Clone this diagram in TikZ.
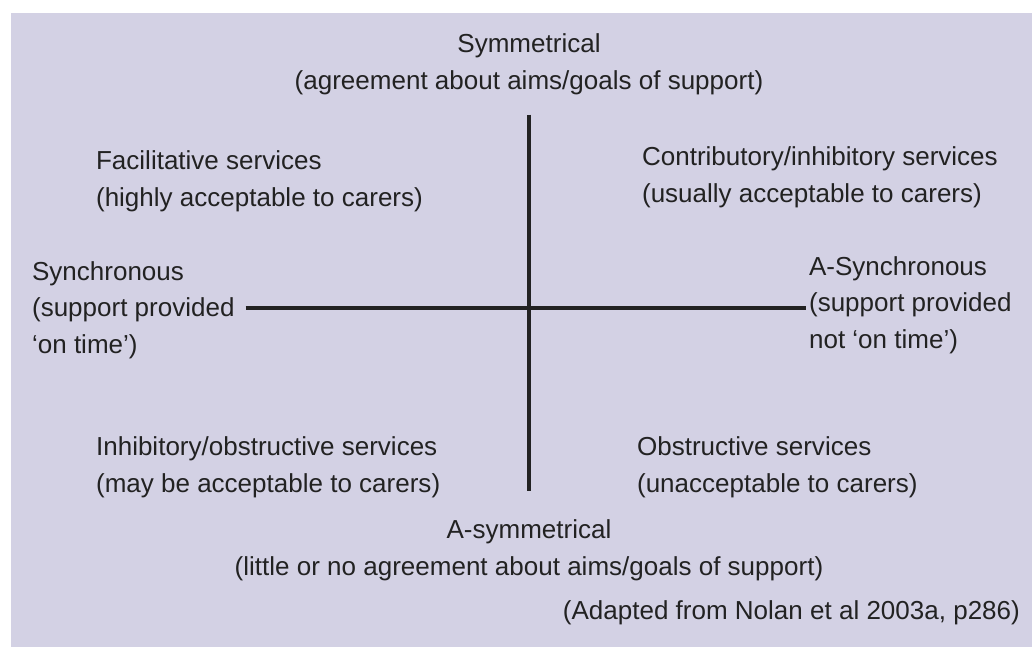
\documentclass[tikz,border=0pt]{standalone}
\usepackage{fontspec}
\setmainfont{Liberation Sans}
\usepackage{tikz}

\definecolor{panel}{HTML}{D3D1E4}
\definecolor{ink}{HTML}{222222}

\tikzset{
  label/.style={text=ink, inner sep=2pt, align=left,
    font=\fontsize{18.5}{26}\selectfont},
  axis/.style={draw=ink, line width=2.4pt}
}

\begin{document}
\begin{tikzpicture}[x=0.025cm, y=-0.025cm]
  \useasboundingbox (0,0) rectangle (1032,647);
  \fill[panel] (11,13) rectangle (1032,647);

  \node[label, align=center] (sym) at (529,64) {Symmetrical\\(agreement about aims/goals of support)};
  \node[label, align=center] (asym) at (529,550) {A-symmetrical\\(little or no agreement about aims/goals of support)};

  \node[label, anchor=west] (fac) at (93,181) {Facilitative services\\(highly acceptable to carers)};
  \node[label, anchor=west] (con) at (639,177) {Contributory/inhibitory services\\(usually acceptable to carers)};
  \node[label, anchor=west] (inh) at (93,467) {Inhibitory/obstructive services\\(may be acceptable to carers)};
  \node[label, anchor=west] (obs) at (634,467) {Obstructive services\\(unacceptable to carers)};

  \node[label, anchor=west] (sync) at (29,310) {Synchronous\\(support provided\\`on time')};
  \node[label, anchor=west] (async) at (806,305) {A-Synchronous\\(support provided\\not `on time')};

  \node[label, anchor=east] (src) at (1023,613) {(Adapted from Nolan et al 2003a, p286)};

  % axes
  \draw[axis] (sym.south) ++(0,17) coordinate (top) -- (top |- 0,491) coordinate (bot);
  \draw[axis] (sync.east) ++(8,-2) coordinate (lft) -- (lft -| async.west);
\end{tikzpicture}
\end{document}
